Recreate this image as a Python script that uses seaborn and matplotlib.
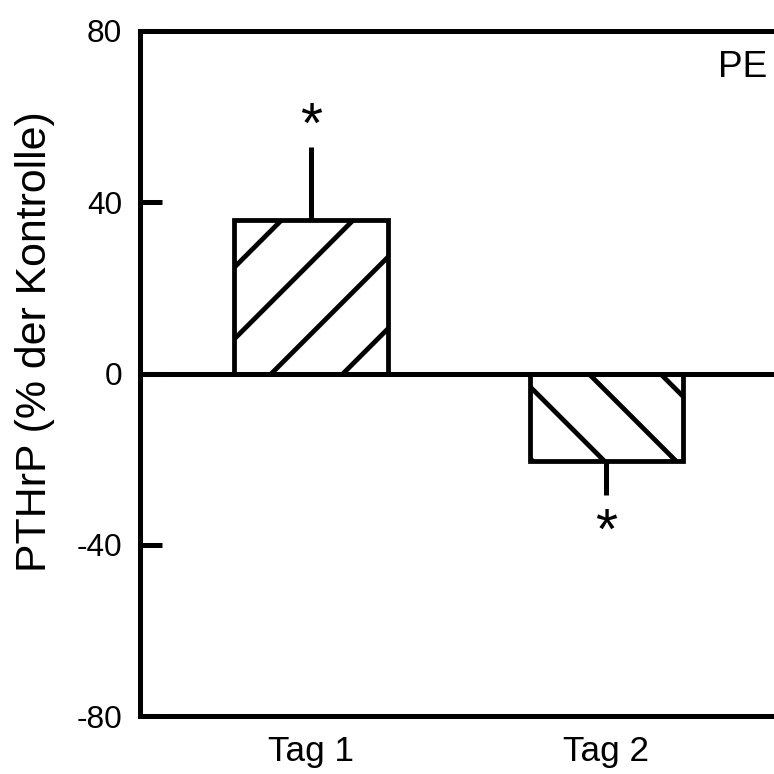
import numpy as np
import pandas as pd
import matplotlib
matplotlib.use("Agg")
import matplotlib.pyplot as plt
import seaborn as sns

# ---- data ----
categories = ["Tag 1", "Tag 2"]
values = [35.8, -20.4]          # PTHrP, % der Kontrolle
errors = [17.0, 8.0]            # one-sided SEM
hatches = ["//", "\\\\"]
significance = ["*", "*"]
yticks = [-80, -40, 0, 40, 80]
panel_label = "PE"

sns.set_style("white")
plt.rcParams["font.family"] = ["Liberation Sans", "DejaVu Sans"]
plt.rcParams["hatch.linewidth"] = 0.8
plt.rcParams["hatch.color"] = "black"

DPI = 430
fig = plt.figure(figsize=(774 / DPI, 774 / DPI), dpi=DPI)
ax = fig.add_axes([140 / 774, 58 / 774, 634 / 774, 685 / 774])

df = pd.DataFrame({"Tag": categories, "value": values})
sns.barplot(data=df, x="Tag", y="value", width=0.52, color="white",
            edgecolor="black", linewidth=0.8, ax=ax, errorbar=None,
            saturation=1)
for patch, h in zip(ax.patches, hatches):
    patch.set_hatch(h)
    patch.set_facecolor("white")
    patch.set_edgecolor("black")

xpos = np.arange(len(categories))
lower = [e if v < 0 else 0 for v, e in zip(values, errors)]
upper = [e if v >= 0 else 0 for v, e in zip(values, errors)]
ax.errorbar(xpos, values, yerr=[lower, upper], fmt="none", ecolor="black",
            elinewidth=0.84, capsize=0, zorder=1)

ax.axhline(0, color="black", lw=0.84, zorder=3)

pad = 6.8
glyph_shift = 2.3
for x, v, e, s in zip(xpos, values, errors, significance):
    y = v + np.sign(v) * (e + pad) - glyph_shift
    ax.text(x, y, s, ha="center", va="center", fontsize=9.5, color="black")

ax.set_ylim(-80, 80)
ax.set_xlim(-0.579, 1.567)
ax.set_yticks(yticks)
ax.set_yticklabels([str(t) for t in yticks])

for side in ["left", "top", "bottom"]:
    ax.spines[side].set_linewidth(0.84)
    ax.spines[side].set_color("black")
ax.spines["right"].set_visible(False)

ax.tick_params(axis="y", direction="in", length=3.7, width=0.84,
               labelsize=5.3, pad=3.0, colors="black", left=True)
ax.tick_params(axis="x", length=0, labelsize=5.9, pad=3.2, colors="black")

ax.set_xlabel("")
ax.set_ylabel("PTHrP (% der Kontrolle)", fontsize=7.2, color="black")
ax.yaxis.label.set_verticalalignment("center")
ax.yaxis.set_label_coords(-0.166, 0.546)

ax.text(0.99, 0.972, panel_label, transform=ax.transAxes, ha="right",
        va="top", fontsize=6.2, color="black")

fig.savefig("out.png", dpi=DPI, facecolor="white")
